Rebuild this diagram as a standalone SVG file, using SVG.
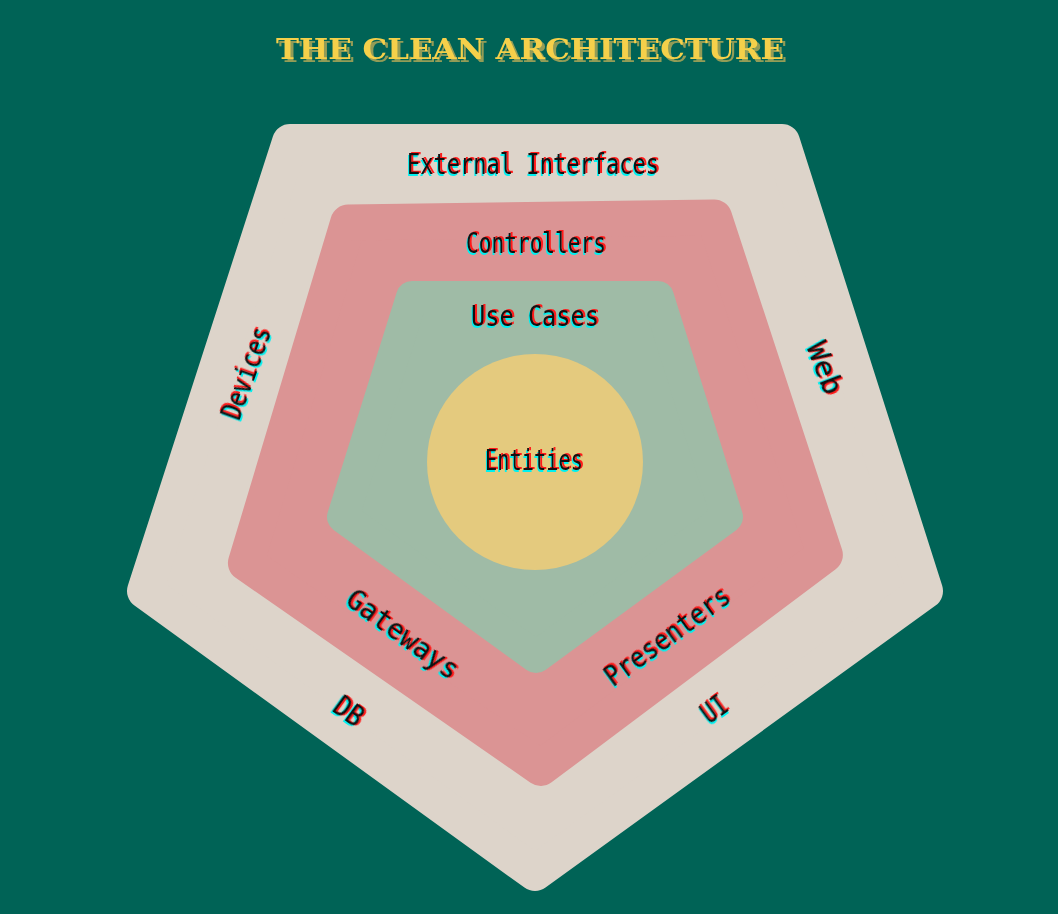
<svg xmlns="http://www.w3.org/2000/svg" width="1058" height="914" viewBox="0 0 1058 914">
<style>
.bg{fill:#006356}
.layer{stroke-linejoin:round}
.lbl{font-family:"DejaVu Sans Mono","Liberation Mono",monospace;font-size:28px;text-anchor:middle;fill:#111111;filter:url(#glitch)}
.title{font-family:"DejaVu Serif","Liberation Serif",serif;font-weight:bold;font-size:28px;text-anchor:middle;fill:#f5d04a;filter:url(#tshadow)}
</style>
<defs>
<filter id="glitch" x="-20%" y="-40%" width="140%" height="180%" color-interpolation-filters="sRGB">
<feFlood flood-color="#ff1a1a" result="red"/>
<feOffset in="SourceAlpha" dx="1.5" dy="-1" result="ro"/>
<feComposite in="red" in2="ro" operator="in" result="redT"/>
<feFlood flood-color="#00f0f0" result="cyan"/>
<feOffset in="SourceAlpha" dx="-1.5" dy="1.5" result="co"/>
<feComposite in="cyan" in2="co" operator="in" result="cyanT"/>
<feMerge><feMergeNode in="cyanT"/><feMergeNode in="redT"/><feMergeNode in="SourceGraphic"/></feMerge>
</filter>
<filter id="tshadow" x="-5%" y="-30%" width="110%" height="160%" color-interpolation-filters="sRGB">
<feFlood flood-color="#939c56" result="sh"/>
<feOffset in="SourceAlpha" dx="3" dy="3" result="so"/>
<feComposite in="sh" in2="so" operator="in" result="shT"/>
<feMerge><feMergeNode in="shT"/><feMergeNode in="SourceGraphic"/></feMerge>
</filter>
</defs>
<rect class="bg" x="0" y="0" width="1058" height="914"/>
<g id="title">
<text class="title" x="530" y="59" textLength="508" lengthAdjust="spacingAndGlyphs">THE CLEAN ARCHITECTURE</text>
</g>
<g id="external-interfaces-layer">
<polygon class="layer" points="290,142 782,142 925,591 535,873 145,591" fill="#ddd4ca" stroke="#ddd4ca" stroke-width="36"/>
</g>
<g id="controllers-layer">
<polygon class="layer" transform="rotate(-0.8 535 495)" points="352,220 718,220 824,559 537,768 245,559" fill="#db9494" stroke="#db9494" stroke-width="36"/>
</g>
<g id="use-cases-layer">
<polygon class="layer" points="412,297 658,297 727,517 536,657 343,517" fill="#9fbba6" stroke="#9fbba6" stroke-width="32"/>
</g>
<g id="entities-layer">
<circle cx="535" cy="462" r="108" fill="#e4ca7e"/>
</g>
<g id="label-external">
<text class="lbl" x="533" y="174" textLength="252" lengthAdjust="spacingAndGlyphs">External Interfaces</text>
</g>
<g id="label-controllers">
<text class="lbl" x="536" y="253" textLength="140" lengthAdjust="spacingAndGlyphs">Controllers</text>
</g>
<g id="label-usecases">
<text class="lbl" x="535" y="326" textLength="128" lengthAdjust="spacingAndGlyphs">Use Cases</text>
</g>
<g id="label-entities">
<text class="lbl" x="534" y="470" textLength="98" lengthAdjust="spacingAndGlyphs">Entities</text>
</g>
<g id="label-devices" transform="translate(246,373) rotate(-70)">
<text class="lbl" x="0" y="10" textLength="96" lengthAdjust="spacingAndGlyphs">Devices</text>
</g>
<g id="label-web" transform="translate(825,368) rotate(69)">
<text class="lbl" x="0" y="10" textLength="54" lengthAdjust="spacingAndGlyphs">Web</text>
</g>
<g id="label-gateways" transform="translate(403,634) rotate(36)">
<text class="lbl" x="0" y="10" textLength="132" lengthAdjust="spacingAndGlyphs">Gateways</text>
</g>
<g id="label-presenters" transform="translate(667,636) rotate(-36)">
<text class="lbl" x="0" y="10" textLength="148" lengthAdjust="spacingAndGlyphs">Presenters</text>
</g>
<g id="label-db" transform="translate(349,711) rotate(36)">
<text class="lbl" x="0" y="10" textLength="30" lengthAdjust="spacingAndGlyphs">DB</text>
</g>
<g id="label-ui" transform="translate(714,709) rotate(-36)">
<text class="lbl" x="0" y="10" textLength="26" lengthAdjust="spacingAndGlyphs">UI</text>
</g>
<g id="connectors"/>
</svg>
